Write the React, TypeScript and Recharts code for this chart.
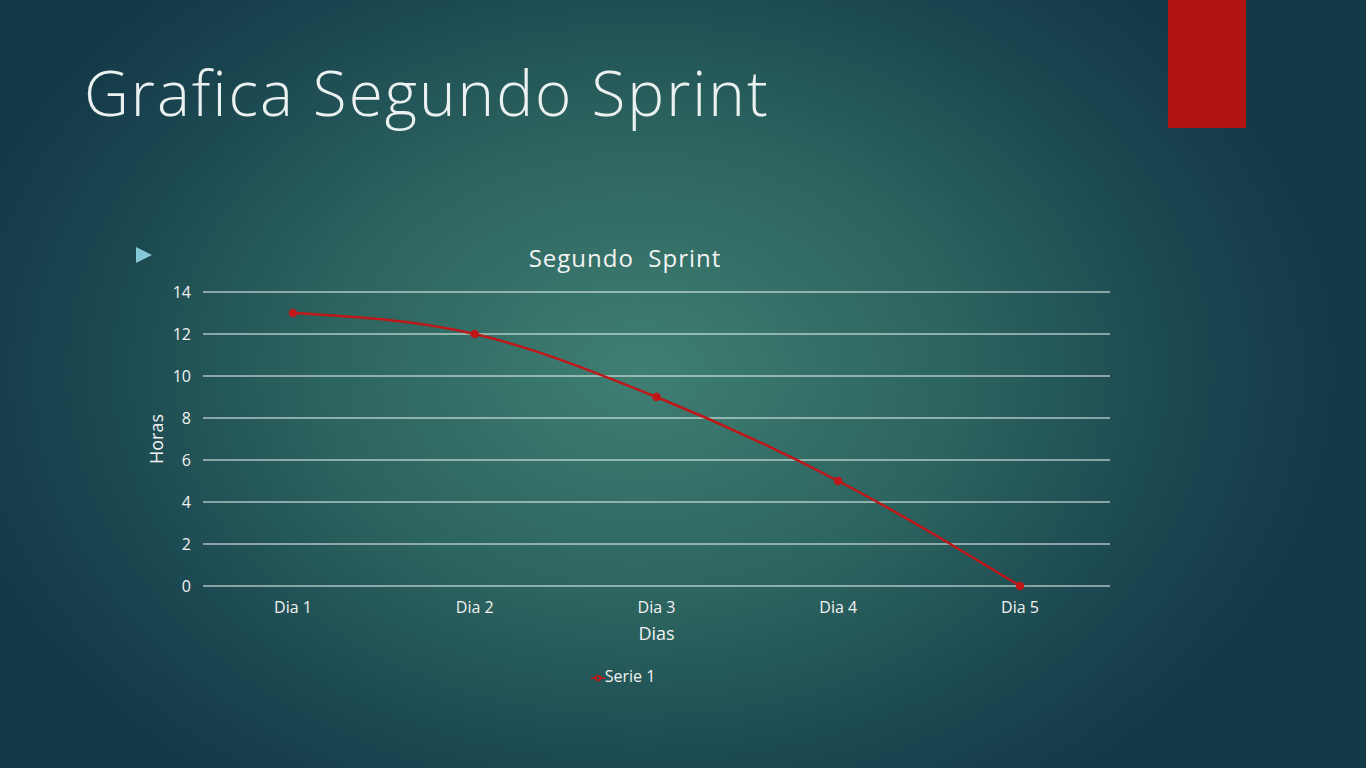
import { LineChart, Line, XAxis, YAxis, CartesianGrid, Legend, Label } from "recharts";

const dias = ["Dia 1", "Dia 2", "Dia 3", "Dia 4", "Dia 5"];
const serie1 = [13, 12, 9, 5, 0];
const yTicks = [0, 2, 4, 6, 8, 10, 12, 14];

const data = dias.map((d, i) => ({ dia: d, serie1: serie1[i] }));

const font = "'Open Sans', 'DejaVu Sans', sans-serif";
const tick = { fontSize: 16, fill: "#f2f2f2", fontFamily: font };

export default function App() {
  return (
    <div
      style={{
        position: "absolute",
        left: 0,
        top: 0,
        width: 1366,
        height: 768,
        overflow: "hidden",
        fontFamily: font,
        background:
          "radial-gradient(ellipse 700px 520px at 640px 370px, #3f7f72 0%, #2c645f 45%, #1a4650 80%, #143947 100%)",
      }}
    >
      <div
        style={{
          position: "absolute",
          left: 84,
          top: 52,
          fontSize: 62,
          fontWeight: 300,
          letterSpacing: 2,
          color: "#ebf0f0",
          lineHeight: "80px",
        }}
      >
        Grafica Segundo Sprint
      </div>
      <div style={{ position: "absolute", left: 1168, top: 0, width: 78, height: 128, background: "#b01513" }} />
      <div
        style={{
          position: "absolute",
          left: 136,
          top: 247,
          width: 0,
          height: 0,
          borderTop: "8px solid transparent",
          borderBottom: "8px solid transparent",
          borderLeft: "16px solid #86c8d8",
        }}
      />
      <div
        style={{
          position: "absolute",
          left: 0,
          width: 1250,
          top: 242,
          textAlign: "center",
          fontSize: 24,
          letterSpacing: 1,
          color: "#f2f2f2",
          lineHeight: "32px",
        }}
      >
        Segundo&nbsp; Sprint
      </div>
      <LineChart
        width={1366}
        height={768}
        data={data}
        margin={{ top: 292, left: 143, right: 256, bottom: 152 }}
        style={{ position: "absolute", left: 0, top: 0 }}
      >
        <CartesianGrid vertical={false} stroke="#f4f7f7" strokeWidth={1} />
        <XAxis
          dataKey="dia"
          tick={tick}
          axisLine={false}
          tickLine={false}
          height={30}
          tickMargin={10}
          padding={{ left: 90, right: 90 }}
        >
          <Label value="Dias" position="insideBottom" offset={-24} style={{ fontSize: 18, fill: "#f2f2f2", fontFamily: font }} />
        </XAxis>
        <YAxis
          domain={[0, 14]}
          ticks={yTicks}
          tick={tick}
          axisLine={false}
          tickLine={false}
          width={60}
          tickMargin={6}
        >
          <Label
            value="Horas"
            angle={-90}
            position="insideLeft"
            offset={14}
            style={{ fontSize: 18, fill: "#f2f2f2", fontFamily: font, textAnchor: "middle" }}
          />
        </YAxis>
        <Legend
          verticalAlign="middle"
          align="center"
          layout="horizontal"
          wrapperStyle={{ top: 665, left: 0, width: 1256 }}
          formatter={(v) => <span style={{ color: "#f2f2f2", fontSize: 16, fontFamily: font, marginLeft: -4 }}>{v}</span>}
        />
        <Line
          type="monotone"
          dataKey="serie1"
          name="Serie 1"
          stroke="#c0171a"
          strokeWidth={2.5}
          dot={{ r: 3, fill: "#c0171a", stroke: "#c0171a" }}
          legendType="line"
          isAnimationActive={false}
        />
      </LineChart>
    </div>
  );
}
